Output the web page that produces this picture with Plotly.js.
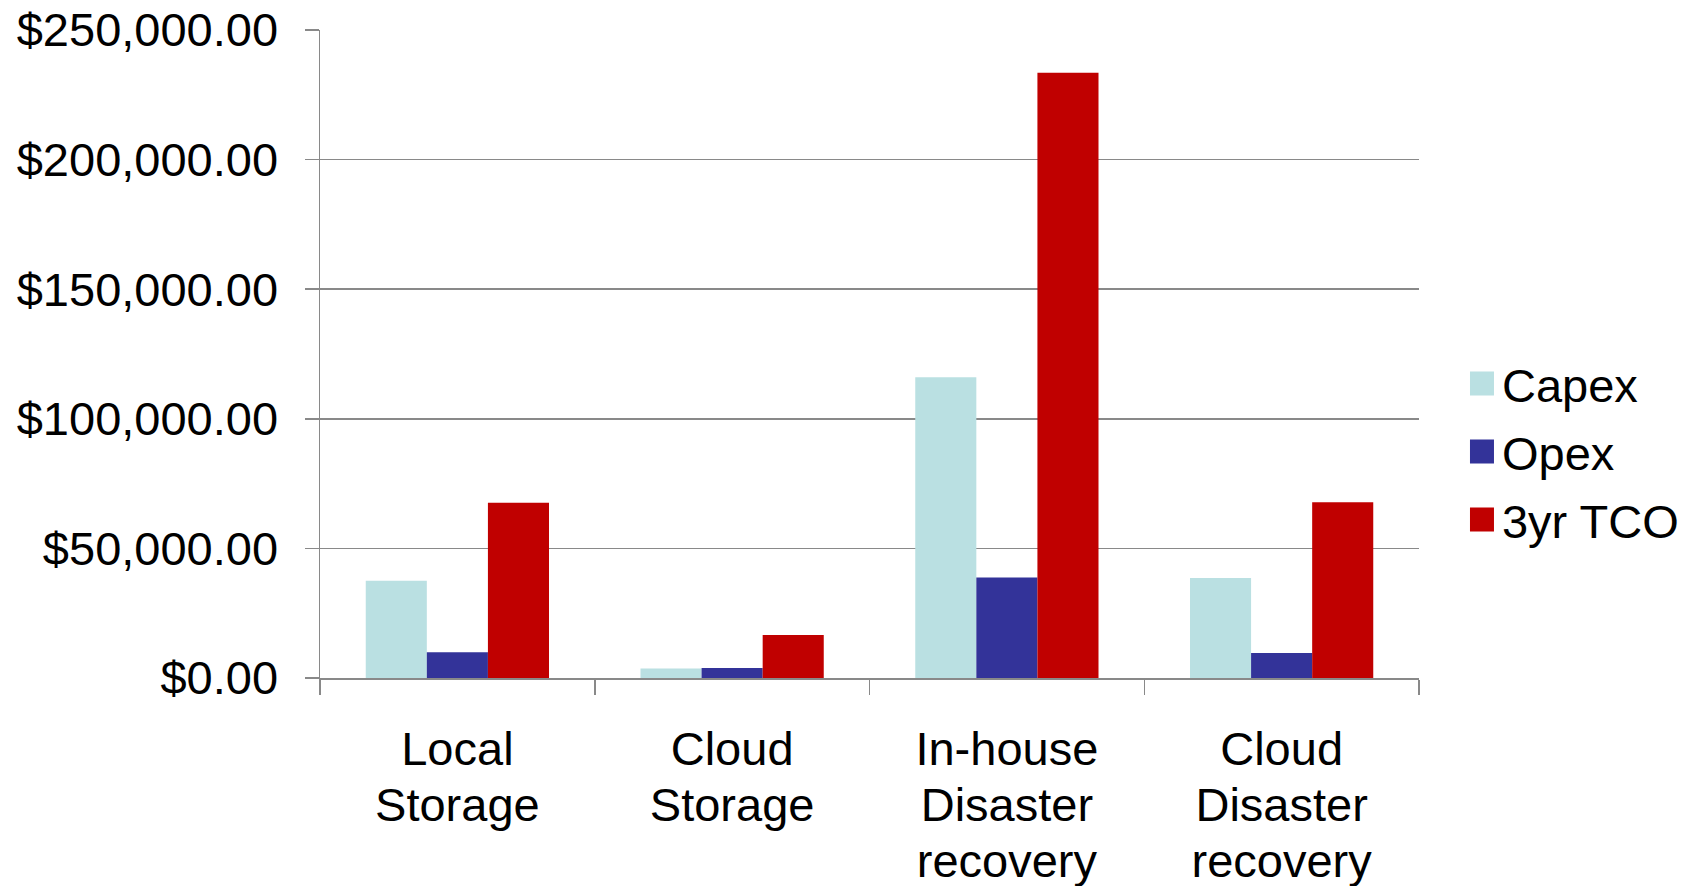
<!DOCTYPE html>
<html>
<head>
<meta charset="utf-8">
<script src="https://cdn.plot.ly/plotly-3.0.1.min.js"></script>
<style>
  html, body { margin: 0; padding: 0; background: #fff; }
  #chart { width: 1698px; height: 886px; }
</style>
</head>
<body>
<div id="chart"></div>
<script>
// Cost comparison of storage and disaster-recovery options
const categories = ['Local Storage', 'Cloud Storage', 'In-house Disaster recovery', 'Cloud Disaster recovery'];
const categoryLabels = ['Local<br>Storage', 'Cloud<br>Storage', 'In-house<br>Disaster<br>recovery', 'Cloud<br>Disaster<br>recovery'];
const seriesNames = ['Capex', 'Opex', '3yr TCO'];
const capex = [37500, 3700, 116000, 38600];
const opex = [9900, 3900, 38800, 9600];
const tco = [67600, 16600, 233500, 67800];
const yTicks = [0, 50000, 100000, 150000, 200000, 250000];

const colors = ['#bae0e2', '#333399', '#c00000'];
const FONT = '"Liberation Sans", Arial, sans-serif';
const AXIS_GREY = '#898989';

const traces = [capex, opex, tco].map((vals, i) => ({
  type: 'bar',
  name: seriesNames[i],
  x: categories,
  y: vals,
  legendgroup: 'g' + i,
  marker: { color: colors[i], line: { width: 0 } },
  hoverinfo: 'x+y+name'
}));

const layout = {
  width: 1698,
  height: 886,
  margin: { l: 320, r: 279, t: 30, b: 208 },
  paper_bgcolor: '#ffffff',
  plot_bgcolor: '#ffffff',
  font: { family: FONT, size: 47, color: '#000000' },
  barmode: 'group',
  bargap: 0.333,
  bargroupgap: 0,
  showlegend: true,
  legend: {
    xref: 'container', yref: 'container',
    x: 0.861, y: 0.49, xanchor: 'left', yanchor: 'middle',
    traceorder: 'grouped', tracegroupgap: 4,
    font: { family: FONT, size: 47, color: '#000000' },
    bgcolor: 'rgba(0,0,0,0)', borderwidth: 0
  },
  xaxis: {
    type: 'category',
    tickmode: 'array',
    tickvals: categories,
    ticktext: categoryLabels,
    tickson: 'boundaries',
    ticks: 'outside', ticklen: 15, tickwidth: 1.5, tickcolor: AXIS_GREY,
    showline: true, linecolor: AXIS_GREY, linewidth: 1.5,
    showgrid: false, zeroline: false,
    tickfont: { family: FONT, size: 47, color: '#000000' },
    ticklabelstandoff: 29
  },
  yaxis: {
    range: [0, 250000],
    tickmode: 'array',
    tickvals: yTicks,
    tickformat: '$,.2f',
    ticks: 'outside', ticklen: 14, tickwidth: 1.5, tickcolor: AXIS_GREY,
    showline: true, linecolor: AXIS_GREY, linewidth: 1.5,
    showgrid: true, gridcolor: AXIS_GREY, gridwidth: 1.5,
    zeroline: false,
    tickfont: { family: FONT, size: 47, color: '#000000' },
    ticklabelstandoff: 17
  }
};

function tidy(gd) {
  // tighter line spacing for the multi-line category labels
  gd.querySelectorAll('.xtick text tspan.line').forEach(t => {
    const dy = parseFloat(t.getAttribute('dy'));
    if (!isNaN(dy) && dy > 0) t.setAttribute('dy', (dy * 1.19 / 1.3) + 'em');
  });
  // larger legend swatches
  gd.querySelectorAll('.legendpoints path').forEach(p => {
    p.setAttribute('d', 'M12,12H-12V-12H12Z');
  });
}

Plotly.newPlot('chart', traces, layout, { staticPlot: true, displayModeBar: false })
  .then(gd => tidy(gd));
</script>
</body>
</html>
